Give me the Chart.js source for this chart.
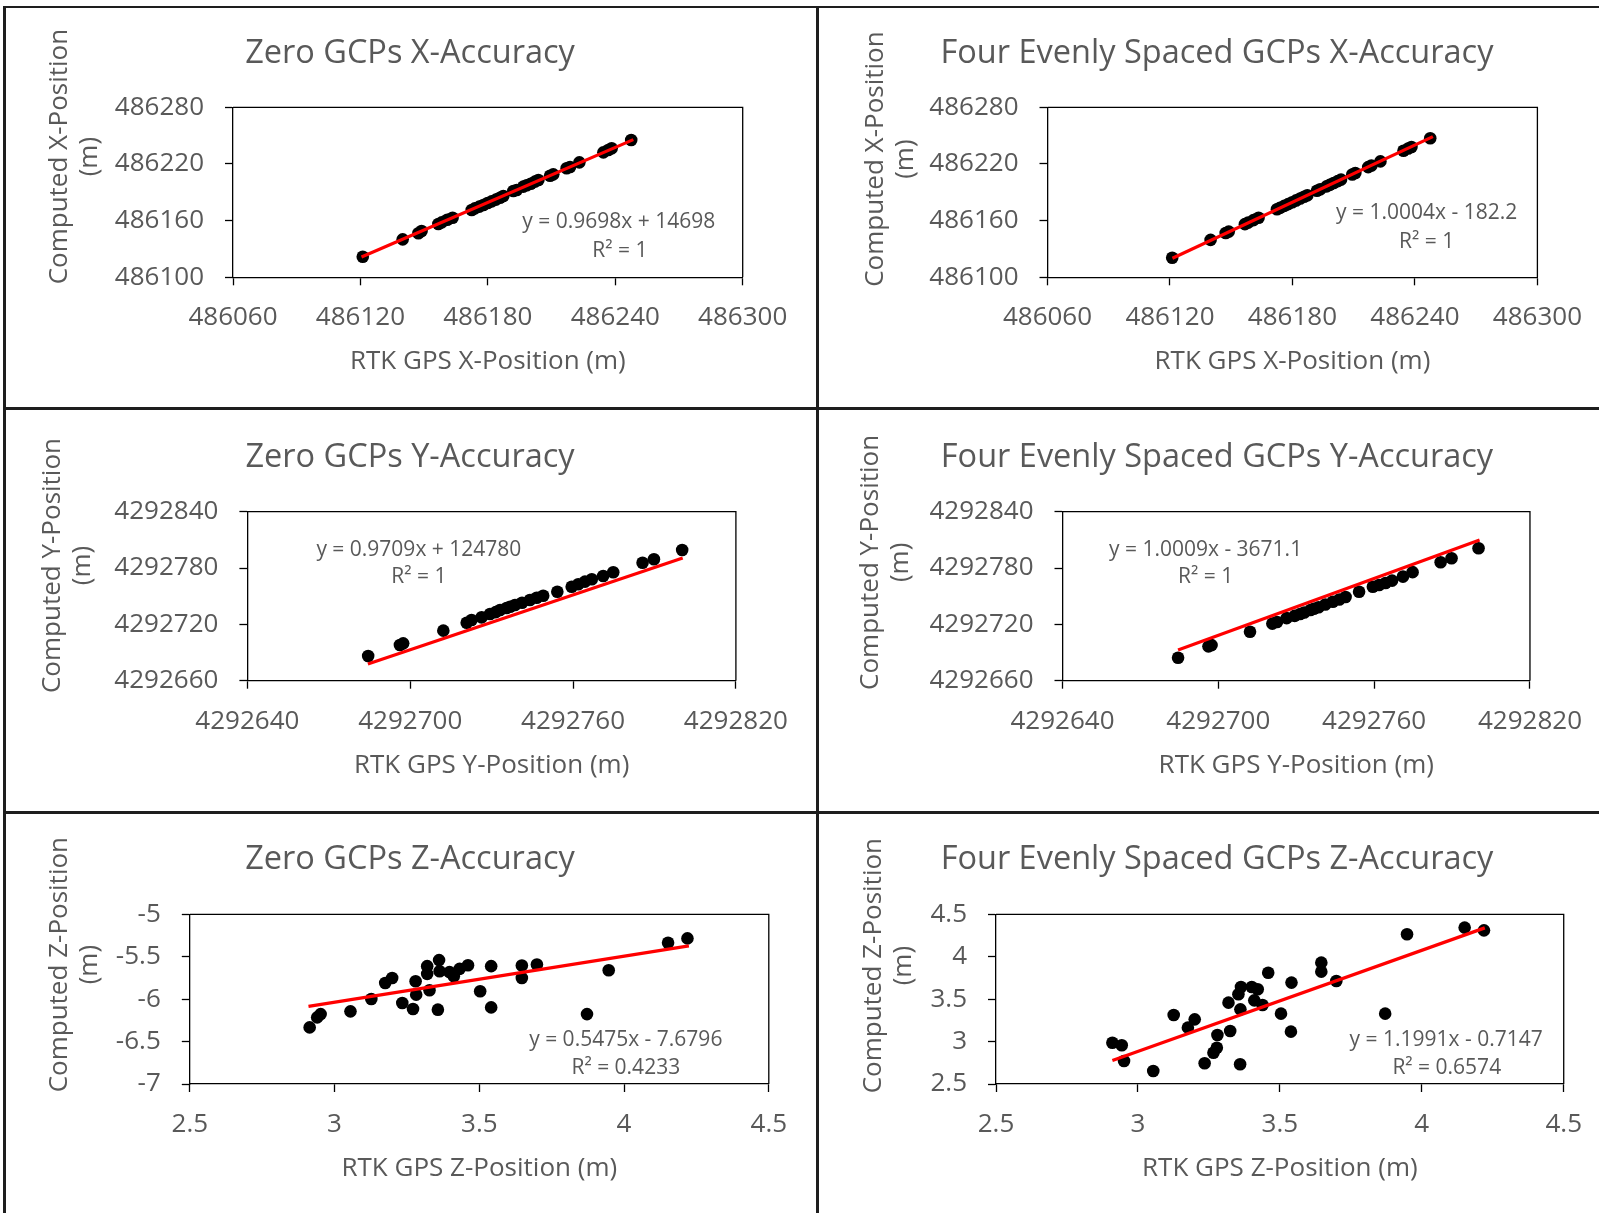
<!DOCTYPE html>
<html>
<head>
<meta charset="utf-8">
<script src="https://cdn.jsdelivr.net/npm/chart.js@4.4.1/dist/chart.umd.min.js"></script>
<style>
  body { margin: 0; background: #fff; width: 1599px; height: 1213px; position: relative; overflow: hidden; }
  .rule { position: absolute; background: #1e1e1e; }
  canvas { position: absolute; }
</style>
</head>
<body>
<!-- panel frame -->
<div class="rule" style="left:3px;top:6px;width:1596px;height:2px"></div>
<div class="rule" style="left:3px;top:6px;width:3px;height:1207px"></div>
<div class="rule" style="left:816px;top:6px;width:3px;height:1207px"></div>
<div class="rule" style="left:3px;top:407px;width:1596px;height:3px"></div>
<div class="rule" style="left:3px;top:811px;width:1596px;height:3px"></div>

<canvas id="tl" width="810" height="399" style="left:6px;top:8px"></canvas>
<canvas id="tr" width="780" height="399" style="left:819px;top:8px"></canvas>
<canvas id="ml" width="810" height="401" style="left:6px;top:410px"></canvas>
<canvas id="mr" width="780" height="401" style="left:819px;top:410px"></canvas>
<canvas id="bl" width="810" height="399" style="left:6px;top:814px"></canvas>
<canvas id="br" width="780" height="399" style="left:819px;top:814px"></canvas>

<script>
// ---- data ----

// X position (m): RTK GPS vs computed
const rtkX = [486121.1, 486139.9, 486147.3, 486148.8, 486156.7, 486158.3, 486160.9, 486163.4, 486172.4, 486173.9,
  486176.0, 486177.9, 486179.9, 486181.8, 486183.8, 486185.7, 486187.3, 486192.0, 486193.6, 486196.7,
  486198.3, 486200.2, 486202.2, 486203.8, 486209.3, 486210.8, 486217.1, 486218.7, 486223.1, 486234.4,
  486236.7, 486238.3, 486247.5]
const zeroX = [486121.8, 486140.2, 486146.6, 486149.0, 486156.4, 486158.2, 486161.0, 486163.1, 486171.3, 486173.0,
  486174.8, 486176.5, 486178.7, 486180.4, 486182.2, 486184.3, 486186.1, 486191.4, 486192.4, 486196.0,
  486197.4, 486199.1, 486201.3, 486203.0, 486207.6, 486209.0, 486215.4, 486216.8, 486221.7, 486232.3,
  486234.8, 486236.6, 486245.4]
const fourX = [486120.7, 486139.6, 486146.9, 486148.4, 486156.3, 486157.9, 486160.5, 486163.0, 486172.0, 486173.5,
  486175.6, 486177.5, 486179.5, 486181.4, 486183.4, 486185.3, 486186.9, 486191.6, 486193.2, 486196.3,
  486197.9, 486199.8, 486201.8, 486203.4, 486208.9, 486210.4, 486216.7, 486218.3, 486222.7, 486234.0,
  486236.3, 486237.9, 486247.3]
const zeroXTrend = { x: [486120.5, 486248.5], y: [486121.5, 486245.8] }
const fourXTrend = { x: [486121.2, 486248.8], y: [486120.1, 486248.9] }

// Y position (m)
const rtkY = [4292684.5, 4292696.2, 4292697.4, 4292712.2, 4292720.8, 4292722.6, 4292726.3, 4292729.4, 4292731.5,
  4292733.1, 4292735.5, 4292736.8, 4292738.6, 4292741.2, 4292744.1, 4292746.6, 4292749.0, 4292754.2,
  4292759.5, 4292761.9, 4292764.4, 4292766.9, 4292771.1, 4292774.8, 4292785.6, 4292789.8, 4292800.2]
const zeroY = [4292686.3, 4292698.0, 4292699.8, 4292713.3, 4292721.8, 4292724.7, 4292727.5, 4292731.0, 4292733.0,
  4292735.3, 4292737.5, 4292738.8, 4292740.6, 4292743.1, 4292746.0, 4292748.4, 4292750.5, 4292754.8,
  4292760.1, 4292762.7, 4292765.5, 4292768.0, 4292771.5, 4292775.5, 4292785.7, 4292789.3, 4292799.2]
const fourY = [4292684.5, 4292696.6, 4292697.9, 4292712.2, 4292720.8, 4292722.5, 4292726.6, 4292729.0, 4292731.1,
  4292732.7, 4292735.3, 4292736.7, 4292738.3, 4292741.1, 4292744.1, 4292746.5, 4292749.2, 4292754.8,
  4292760.1, 4292762.0, 4292764.1, 4292766.6, 4292770.9, 4292775.6, 4292786.1, 4292790.4, 4292801.0]
const zeroYTrend = { x: [4292684.4, 4292800.4], y: [4292677.8, 4292790.7] }
const fourYTrend = { x: [4292684.5, 4292800.6], y: [4292692.7, 4292809.9] }

// Z position (m)
const rtkZZero = [2.914, 2.940, 2.952, 3.055, 3.127, 3.175, 3.199, 3.234, 3.271, 3.280, 3.282, 3.320, 3.320, 3.328,
  3.357, 3.361, 3.363, 3.397, 3.412, 3.432, 3.461, 3.503, 3.541, 3.541, 3.647, 3.647, 3.699, 3.872, 3.947, 4.152, 4.219]
const zeroZ = [-6.333, -6.215, -6.176, -6.144, -5.998, -5.809, -5.750, -6.045, -6.116, -5.789, -5.947, -5.611, -5.702, -5.895,
  -6.124, -5.540, -5.671, -5.682, -5.730, -5.643, -5.600, -5.907, -5.611, -6.097, -5.604, -5.750, -5.592, -6.176, -5.659, -5.335, -5.284]
const rtkZFour = [2.910, 2.943, 2.951, 3.054, 3.126, 3.176, 3.200, 3.235, 3.266, 3.278, 3.280, 3.325, 3.319, 3.360, 3.354, 3.363,
  3.361, 3.401, 3.422, 3.410, 3.439, 3.459, 3.504, 3.541, 3.539, 3.646, 3.646, 3.699, 3.871, 3.948, 4.151, 4.219]
const fourZ = [2.987, 2.956, 2.771, 2.653, 3.313, 3.164, 3.262, 2.744, 2.869, 2.928, 3.078, 3.125, 3.459, 2.732, 3.557, 3.643,
  3.380, 3.643, 3.616, 3.486, 3.431, 3.812, 3.329, 3.695, 3.117, 3.930, 3.824, 3.714, 3.329, 4.264, 4.343, 4.311]
const zeroZTrend = { x: [2.910, 4.224], y: [-6.085, -5.372] }
const fourZTrend = { x: [2.910, 4.222], y: [2.778, 4.340] }

// axis ranges [min, max, step]
const axisX = [486060, 486300, 60]
const axisY = [4292640, 4292820, 60]
const axisYc = [4292660, 4292840, 60]
const axisXc = [486100, 486280, 60]
const axisZ = [2.5, 4.5, 0.5]
const axisZZero = [-7, -5, 0.5]

const FONT = '"Open Sans", sans-serif'
const GREY = '#595959'

function points(xs, ys) {
  return xs.map((x, i) => ({ x: x, y: ys[i] }))
}

// titles, axis titles, trendline labels and the plot box
const panelText = {
  id: 'panelText',
  afterDraw(chart, args, o) {
    const ctx = chart.ctx
    const a = chart.chartArea
    ctx.save()
    ctx.strokeStyle = '#000'
    ctx.lineWidth = 1.3
    ctx.beginPath()
    ctx.moveTo(a.left, a.top)
    ctx.lineTo(a.right, a.top)
    ctx.lineTo(a.right, a.bottom)
    ctx.stroke()

    ctx.fillStyle = GREY
    ctx.textAlign = 'center'
    ctx.textBaseline = 'alphabetic'
    ctx.font = '32.5px ' + FONT
    ctx.fillText(o.title, o.titleX, o.titleY)

    ctx.font = '26px ' + FONT
    ctx.fillText(o.xTitle, (a.left + a.right) / 2, a.bottom + 92)

    let cy = (a.top + a.bottom) / 2 + o.yTitleDy
    o.yTitle.forEach(function (t, i) {
      ctx.save()
      ctx.translate(o.yTitleX + i * 30, cy)
      ctx.rotate(-Math.PI / 2)
      ctx.fillText(t, 0, 0)
      ctx.restore()
    })

    ctx.font = '21px ' + FONT
    ctx.textBaseline = 'middle'
    o.eq.forEach(function (t, i) {
      let p = o.eqPos[i]
      ctx.fillText(t, a.left + p[0] * (a.right - a.left), a.top + p[1] * (a.bottom - a.top))
    })
    ctx.restore()
  }
}

function axis(range, size, isX) {
  return {
    type: 'linear',
    min: range[0],
    max: range[1],
    ticks: {
      stepSize: range[2], color: GREY, font: { family: FONT, size: 26 },
      padding: isX ? 17 : 21, maxRotation: 0, autoSkip: false,
      callback: v => String(v)
    },
    grid: { display: true, drawOnChartArea: false, drawTicks: true, tickLength: 8, tickColor: '#000', tickWidth: 1.3 },
    border: { display: true, color: '#000', width: 1.3 },
    afterFit: function (s) { if (isX) s.height = size; else s.width = size }
  }
}

function makePanel(id, xs, ys, trend, xr, yr, box, text) {
  new Chart(document.getElementById(id), {
    type: 'scatter',
    data: {
      datasets: [{
        data: points(trend.x, trend.y),
        showLine: true, borderColor: '#ff0000', borderWidth: 3.2, pointRadius: 0, order: 0
      }, {
        data: points(xs, ys),
        backgroundColor: '#000', borderColor: '#000', borderWidth: 0, pointRadius: 6.3, order: 1
      }]
    },
    options: {
      responsive: false,
      animation: false,
      events: [],
      layout: { padding: { left: 0, top: box.top, right: box.right, bottom: 0 } },
      scales: { x: axis(xr, box.xH, true), y: axis(yr, box.yW, false) },
      plugins: { legend: { display: false }, tooltip: { enabled: false }, panelText: text }
    },
    plugins: [panelText]
  })
}

makePanel('tl', rtkX, zeroX, zeroXTrend, axisX, axisXc,
  { yW: 227, top: 99.3, right: 73.3, xH: 129.7 },
  { title: 'Zero GCPs X-Accuracy', titleX: 404, titleY: 54.7, xTitle: 'RTK GPS X-Position (m)',
    yTitle: ['Computed X-Position', '(m)'], yTitleX: 61, yTitleDy: -35.7,
    eq: ['y = 0.9698x + 14698', 'R² = 1'], eqPos: [[0.757, 0.673], [0.759, 0.845]] })

makePanel('tr', rtkX, fourX, fourXTrend, axisX, axisXc,
  { yW: 228.5, top: 99.3, right: 59, xH: 129.7 },
  { title: 'Four Evenly Spaced GCPs X-Accuracy', titleX: 398, titleY: 54.7, xTitle: 'RTK GPS X-Position (m)',
    yTitle: ['Computed X-Position', '(m)'], yTitleX: 63.7, yTitleDy: -33.2,
    eq: ['y = 1.0004x - 182.2', 'R² = 1'], eqPos: [[0.774, 0.624], [0.774, 0.79]] })

makePanel('ml', rtkY, zeroY, zeroYTrend, axisY, axisYc,
  { yW: 241.4, top: 101.7, right: 80.1, xH: 130.3 },
  { title: 'Zero GCPs Y-Accuracy', titleX: 404, titleY: 56.7, xTitle: 'RTK GPS Y-Position (m)',
    yTitle: ['Computed Y-Position', '(m)'], yTitleX: 54, yTitleDy: -30.7,
    eq: ['y = 0.9709x + 124780', 'R² = 1'], eqPos: [[0.351, 0.227], [0.351, 0.389]] })

makePanel('mr', rtkY, fourY, fourYTrend, axisY, axisYc,
  { yW: 243.5, top: 101.7, right: 65.5, xH: 130.3 },
  { title: 'Four Evenly Spaced GCPs Y-Accuracy', titleX: 398, titleY: 56.7, xTitle: 'RTK GPS Y-Position (m)',
    yTitle: ['Computed Y-Position', '(m)'], yTitleX: 58.6, yTitleDy: -33.8,
    eq: ['y = 1.0009x - 3671.1', 'R² = 1'], eqPos: [[0.306, 0.227], [0.306, 0.389]] })

makePanel('bl', rtkZZero, zeroZ, zeroZTrend, axisZ, axisZZero,
  { yW: 183.8, top: 100.3, right: 47.2, xH: 129 },
  { title: 'Zero GCPs Z-Accuracy', titleX: 404, titleY: 55.3, xTitle: 'RTK GPS Z-Position (m)',
    yTitle: ['Computed Z-Position', '(m)'], yTitleX: 61, yTitleDy: -34.5,
    eq: ['y = 0.5475x - 7.6796', 'R² = 0.4233'], eqPos: [[0.753, 0.741], [0.753, 0.903]] })

makePanel('br', rtkZFour, fourZ, fourZTrend, axisZ, axisZ,
  { yW: 177, top: 100.3, right: 32.5, xH: 129 },
  { title: 'Four Evenly Spaced GCPs Z-Accuracy', titleX: 398, titleY: 55.3, xTitle: 'RTK GPS Z-Position (m)',
    yTitle: ['Computed Z-Position', '(m)'], yTitleX: 62, yTitleDy: -33.5,
    eq: ['y = 1.1991x - 0.7147', 'R² = 0.6574'], eqPos: [[0.793, 0.741], [0.794, 0.903]] })
</script>
</body>
</html>
